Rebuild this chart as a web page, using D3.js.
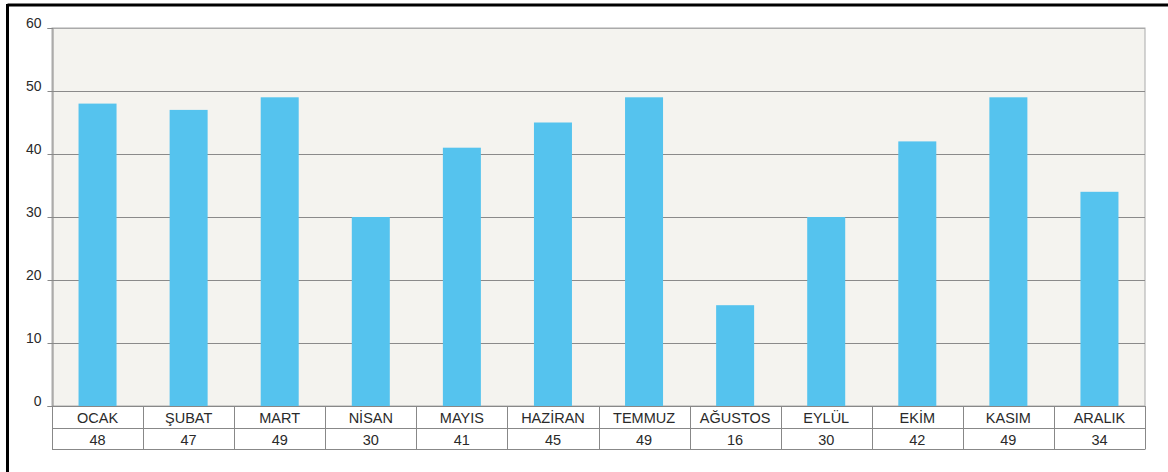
<!DOCTYPE html>
<html><head><meta charset="utf-8">
<script src="https://cdn.jsdelivr.net/npm/d3@7"></script>
<style>body{margin:0;background:#fff}svg{display:block}text{font-family:"Liberation Sans",Arial,sans-serif}</style>
</head><body>
<svg id="c" width="1168" height="472"></svg>
<script>
const months = ["OCAK","ŞUBAT","MART","NİSAN","MAYIS","HAZİRAN","TEMMUZ","AĞUSTOS","EYLÜL","EKİM","KASIM","ARALIK"];
const values = [48,47,49,30,41,45,49,16,30,42,49,34];
const yTicks = [0,10,20,30,40,50,60];

const svg = d3.select("#c");
const L = 52, R = 1145, T = 28, B = 406;
const x = d3.scaleBand().domain(months).range([L, R]).paddingInner(0).paddingOuter(0);
const y = d3.scaleLinear().domain([0, 60]).range([B, T]);

// frame border
svg.append("line").attr("x1",7.5).attr("x2",1168).attr("y1",5).attr("y2",5).attr("stroke","#000").attr("stroke-width",3);
svg.append("line").attr("x1",7.5).attr("x2",7.5).attr("y1",4).attr("y2",472).attr("stroke","#000").attr("stroke-width",3);

// plot background
svg.append("rect").attr("x",L).attr("y",T).attr("width",R-L).attr("height",B-T).attr("fill","#f4f3ef").attr("stroke","#aaa").attr("stroke-width",1);

// gridlines
svg.append("g").selectAll("line").data(yTicks.filter(d=>d>0)).join("line")
  .attr("x1",L).attr("x2",R).attr("y1",d=>Math.round(y(d))+0.5).attr("y2",d=>Math.round(y(d))+0.5)
  .attr("stroke",d=>d===60?"#aaa":"#8a8a8a").attr("stroke-width",1);

// y axis
const ya = svg.append("g").attr("transform",`translate(${L+0.5},0)`).call(d3.axisLeft(y).tickValues(yTicks).tickSize(5).tickPadding(6));
ya.select(".domain").attr("stroke","#888");
ya.selectAll(".tick line").attr("stroke","#888");
ya.selectAll(".tick text").attr("font-size",14).attr("fill","#2a2a2a").attr("font-family","Liberation Sans, Arial, sans-serif").attr("dy","-0.05em");

// bars
const bw = 38;
svg.append("g").selectAll("rect").data(values).join("rect")
  .attr("x",(d,i)=>x(months[i])+x.bandwidth()/2-bw/2)
  .attr("y",d=>y(d))
  .attr("width",bw)
  .attr("height",d=>B-y(d))
  .attr("fill","#55c3ee");

// table
const rowY = [B, 428, 449];
const tg = svg.append("g");
tg.append("rect").attr("x",L).attr("y",B).attr("width",R-L).attr("height",rowY[2]-B).attr("fill","#fff");
rowY.forEach(yy=>tg.append("line").attr("x1",L).attr("x2",R).attr("y1",yy+0.5).attr("y2",yy+0.5).attr("stroke","#888"));
const seps = months.map(m=>x(m)).concat([R]);
tg.selectAll("line.v").data(seps).join("line").attr("class","v")
  .attr("x1",d=>Math.round(d)+0.5).attr("x2",d=>Math.round(d)+0.5).attr("y1",B).attr("y2",rowY[2]+0.5).attr("stroke","#888");
tg.selectAll("text.m").data(months).join("text").attr("class","m")
  .attr("x",d=>x(d)+x.bandwidth()/2).attr("y",422.5).attr("text-anchor","middle").attr("font-size",14.5).attr("fill","#2a2a2a").text(d=>d);
tg.selectAll("text.v").data(values).join("text").attr("class","v")
  .attr("x",(d,i)=>x(months[i])+x.bandwidth()/2).attr("y",444.5).attr("text-anchor","middle").attr("font-size",14.5).attr("fill","#2a2a2a").text(d=>d);
</script>
</body></html>
